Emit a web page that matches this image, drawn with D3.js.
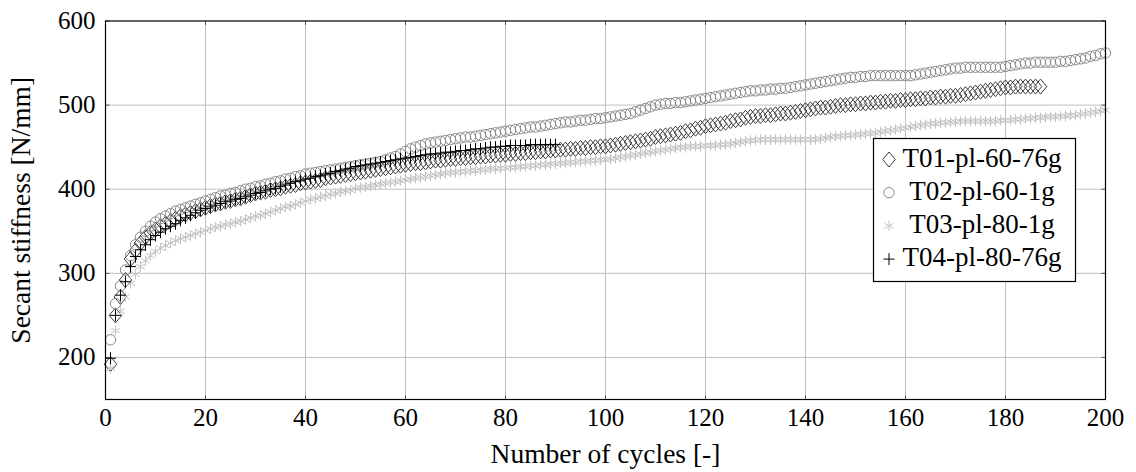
<!DOCTYPE html>
<html>
<head>
<meta charset="utf-8">
<script src="https://cdn.jsdelivr.net/npm/d3@7"></script>
<style>
  html, body { margin: 0; padding: 0; background: #fff; }
  svg { display: block; }
</style>
</head>
<body>
<svg id="chart" width="1136" height="472"></svg>
<script>
// Secant stiffness [N/mm] per load cycle, one array per test specimen
const seriesNames = ["T01-pl-60-76g", "T02-pl-60-1g", "T03-pl-80-1g", "T04-pl-80-76g"];

const t01 = [
  192,250,272,292,317,327,336,343,348,352,
  356,359,362,365,368,370,372,374,376,378,
  380,382,383,385,386,388,389,391,393,395,
  396,397,399,400,401,403,404,405,407,408,
  409,410,411,413,414,415,416,417,418,419,
  420,421,422,423,424,425,426,427,428,429,
  430,431,431,432,433,434,434,435,436,436,
  437,437,438,438,439,439,440,440,441,441,
  442,442,443,443,444,444,445,445,446,446,
  447,447,448,448,449,449,450,450,451,451,
  452,453,454,455,456,457,458,459,460,462,
  463,464,465,466,467,469,470,472,473,475,
  476,477,478,479,481,482,483,485,486,487,
  487,488,488,489,490,490,491,492,493,494,
  495,496,497,497,498,499,500,500,501,501,
  502,502,503,503,504,504,505,505,506,506,
  507,507,508,508,509,509,510,510,511,511,
  512,513,514,515,516,517,518,519,520,521,
  521,522,522,522,522,522,522
];

const t02 = [
  221,264,285,304,321,334,343,350,356,361,
  365,368,371,374,376,378,380,382,384,386,
  388,390,392,393,395,396,398,400,401,403,
  404,406,407,409,410,412,413,415,416,418,
  419,420,421,422,423,424,425,426,427,428,
  429,430,431,432,433,435,437,439,442,445,
  448,450,452,454,455,456,457,458,459,460,
  461,462,462,463,464,465,466,467,468,469,
  470,471,472,473,474,474,475,476,477,478,
  479,480,480,481,482,482,483,484,484,485,
  486,487,488,489,490,492,494,496,498,500,
  501,502,502,503,503,504,505,506,507,508,
  509,510,511,512,513,514,515,516,517,517,
  518,518,519,519,520,520,521,522,523,524,
  525,526,527,528,529,530,531,532,533,533,
  534,534,535,535,535,535,535,535,535,535,
  535,536,537,538,539,540,541,542,543,544,
  544,545,545,545,545,545,545,545,545,546,
  547,548,549,550,550,551,551,551,551,551,
  552,552,553,554,555,556,558,559,561,562
];

const t03 = [
  187,232,255,272,288,299,308,315,321,326,
  330,333,336,339,341,343,345,347,349,351,
  353,355,356,358,359,361,362,364,366,368,
  369,371,373,375,377,379,380,382,384,386,
  388,389,391,392,394,395,397,398,399,401,
  402,403,404,405,406,407,408,409,410,411,
  412,413,414,415,416,417,418,419,420,420,
  421,421,422,422,423,423,424,424,425,425,
  426,426,427,427,428,428,429,429,430,430,
  431,431,432,432,433,433,434,434,435,435,
  436,437,438,439,440,441,442,443,444,445,
  446,447,448,449,450,450,451,451,451,452,
  452,452,453,453,454,455,456,457,458,458,
  459,459,459,459,459,459,459,459,459,459,
  459,459,460,461,462,463,463,464,464,465,
  465,466,466,467,468,469,470,471,472,473,
  474,475,476,477,478,478,479,479,480,480,
  481,481,481,481,481,481,481,481,482,482,
  482,483,483,484,484,485,485,486,486,486,
  487,487,488,488,489,490,491,492,493,494
];

const t04 = [
  199,250,274,290,308,320,328,334,340,345,
  349,353,356,359,363,366,369,372,375,377,
  379,381,383,385,386,388,389,391,393,395,
  396,398,400,401,403,405,407,409,410,412,
  413,415,416,418,419,421,422,424,425,427,
  428,429,430,431,432,433,434,435,436,437,
  438,439,440,441,442,442,443,444,444,445,
  446,446,447,448,448,449,450,450,451,451,
  452,452,452,452,453,453,453,453,453,453
];

const xTicks = [0, 20, 40, 60, 80, 100, 120, 140, 160, 180, 200];
const yTicks = [200, 300, 400, 500, 600];

const svg = d3.select("#chart").attr("font-family", "Liberation Serif, Times New Roman, serif");
const x = d3.scaleLinear().domain([0, 200]).range([105.5, 1105.5]);
const y = d3.scaleLinear().domain([150, 600]).range([399.5, 21]);

// marker shapes, centred on the origin
const markers = {
  diamond: "M0,-7.5L6.3,0L0,7.5L-6.3,0Z",
  circle: d3.symbol().type(d3.symbolCircle).size(Math.PI * 27)(),
  asterisk: (() => {
    const r = 5.2, a = r * Math.cos(Math.PI / 6), b = r * Math.sin(Math.PI / 6);
    return `M0,${-r}L0,${r}M${-a},${-b}L${a},${b}M${-a},${b}L${a},${-b}`;
  })(),
  plus: "M-5.5,0L5.5,0M0,-6L0,6"
};

const styles = [
  { data: t01, marker: "diamond", color: "#3c3c3c" },
  { data: t02, marker: "circle", color: "#888888" },
  { data: t03, marker: "asterisk", color: "#c4c4c4" },
  { data: t04, marker: "plus", color: "#000000" }
];

// grid
const grid = svg.append("g").attr("stroke", "#bfbfbf").attr("stroke-width", 1);
grid.selectAll(".gx").data(xTicks.slice(1, -1)).join("line")
  .attr("x1", d => x(d)).attr("x2", d => x(d))
  .attr("y1", y(150)).attr("y2", y(600));
grid.selectAll(".gy").data(yTicks.slice(0, -1)).join("line")
  .attr("x1", x(0)).attr("x2", x(200))
  .attr("y1", d => y(d)).attr("y2", d => y(d));

// inward ticks on all four sides
const tickLen = 4;
const ticks = svg.append("g").attr("stroke", "#555").attr("stroke-width", 1);
xTicks.forEach(t => {
  ticks.append("line").attr("x1", x(t)).attr("x2", x(t)).attr("y1", y(150)).attr("y2", y(150) - tickLen);
  ticks.append("line").attr("x1", x(t)).attr("x2", x(t)).attr("y1", y(600)).attr("y2", y(600) + tickLen);
});
yTicks.forEach(t => {
  ticks.append("line").attr("x1", x(0)).attr("x2", x(0) + tickLen).attr("y1", y(t)).attr("y2", y(t));
  ticks.append("line").attr("x1", x(200)).attr("x2", x(200) - tickLen).attr("y1", y(t)).attr("y2", y(t));
});

// series
styles.forEach(s => {
  svg.append("g")
    .attr("fill", "none")
    .attr("stroke", s.color)
    .attr("stroke-width", 1)
    .selectAll("path").data(s.data).join("path")
    .attr("d", markers[s.marker])
    .attr("transform", (d, i) => `translate(${x(i + 1)},${y(d)})`);
});

// frame
svg.append("rect")
  .attr("x", x(0)).attr("y", y(600))
  .attr("width", x(200) - x(0)).attr("height", y(150) - y(600))
  .attr("fill", "none").attr("stroke", "#000").attr("stroke-width", 1.2);

// tick labels
svg.append("g").selectAll("text").data(xTicks).join("text")
  .attr("x", d => x(d)).attr("y", y(150) + 26)
  .attr("text-anchor", "middle").attr("font-size", 25)
  .text(d => d);
svg.append("g").selectAll("text").data(yTicks).join("text")
  .attr("x", x(0) - 10).attr("y", d => y(d) + 8)
  .attr("text-anchor", "end").attr("font-size", 25)
  .text(d => d);

// axis titles
svg.append("text")
  .attr("x", x(100)).attr("y", 463)
  .attr("text-anchor", "middle").attr("font-size", 27.5)
  .text("Number of cycles [-]");
svg.append("text")
  .attr("transform", `translate(30,${y(375)}) rotate(-90)`)
  .attr("text-anchor", "middle").attr("font-size", 27.5)
  .text("Secant stiffness [N/mm]");

// legend
const lg = svg.append("g");
lg.append("rect")
  .attr("x", 873.5).attr("y", 138.5).attr("width", 202).attr("height", 143)
  .attr("fill", "#fff").attr("stroke", "#000").attr("stroke-width", 1.2);
styles.forEach((s, i) => {
  const by = 166.5 + i * 33.2;
  lg.append("path")
    .attr("d", markers[s.marker])
    .attr("transform", `translate(889,${by - 7})`)
    .attr("fill", "none").attr("stroke", s.color).attr("stroke-width", 1);
  lg.append("text")
    .attr("x", 982).attr("y", by)
    .attr("text-anchor", "middle").attr("font-size", 27)
    .text(seriesNames[i]);
});
</script>
</body>
</html>
